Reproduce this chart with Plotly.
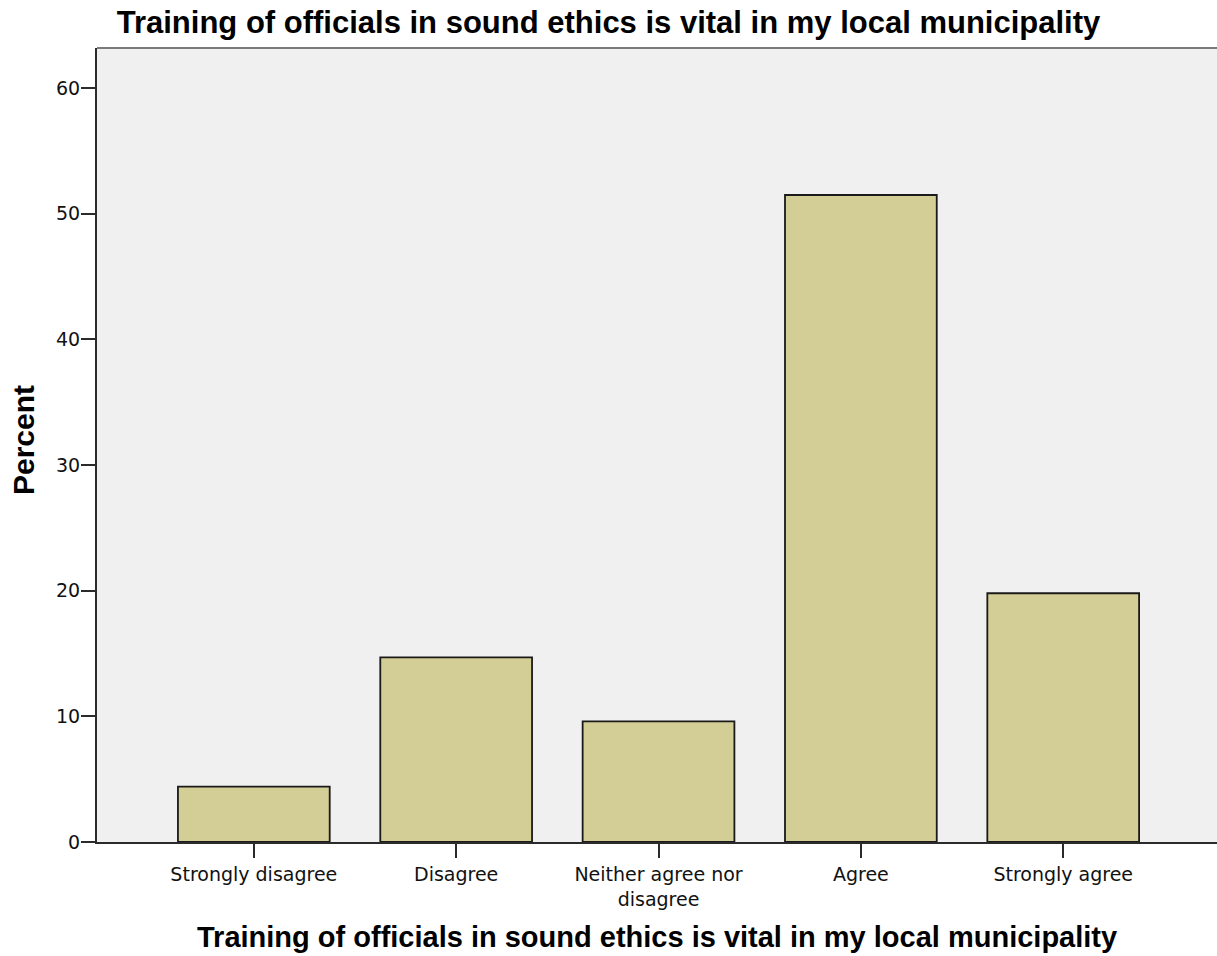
import plotly.graph_objects as go

# Survey responses (percent of respondents)
categories = ["Strongly disagree", "Disagree", "Neither agree nor<br>disagree", "Agree", "Strongly agree"]
percent = [4.4, 14.7, 9.6, 51.5, 19.8]
y_ticks = [0, 10, 20, 30, 40, 50, 60]

chart_title = "Training of officials in sound ethics is vital in my local municipality"

BAR_FILL = "#d3cd96"
PLOT_BG = "#f0f0f0"
AXIS_COLOR = "#2b2b2b"

x_pos = list(range(len(categories)))

fig = go.Figure(
    go.Bar(
        x=x_pos,
        y=percent,
        width=0.75,
        marker=dict(color=BAR_FILL, line=dict(color="#1a1a1a", width=1.8)),
        hoverinfo="skip",
    )
)

fig.update_layout(
    width=1217,
    height=956,
    margin=dict(l=97, r=0, t=48, b=114),
    paper_bgcolor="white",
    plot_bgcolor=PLOT_BG,
    showlegend=False,
    title=dict(
        text=chart_title,
        x=0.5,
        xref="container",
        xanchor="center",
        y=1 - 22 / 956,
        yref="container",
        yanchor="middle",
        font=dict(family="Liberation Sans, Arial, sans-serif", size=31, color="black", weight="bold"),
    ),
    xaxis=dict(
        range=[-0.775, 4.76],
        tickmode="array",
        tickvals=x_pos,
        ticktext=categories,
        ticks="outside",
        ticklen=14,
        tickwidth=1.5,
        tickcolor=AXIS_COLOR,
        showline=True,
        linecolor=AXIS_COLOR,
        linewidth=2,
        showgrid=False,
        zeroline=False,
        tickfont=dict(family="DejaVu Sans, sans-serif", size=19, color="#111111"),
        fixedrange=True,
    ),
    yaxis=dict(
        range=[0, 63.2],
        tickmode="array",
        tickvals=y_ticks,
        ticks="outside",
        ticklen=14,
        tickwidth=1.5,
        tickcolor=AXIS_COLOR,
        showline=True,
        linecolor=AXIS_COLOR,
        linewidth=2,
        showgrid=False,
        zeroline=False,
        ticklabelstandoff=-3,
        tickfont=dict(family="DejaVu Sans, sans-serif", size=19, color="#111111"),
        fixedrange=True,
    ),
    shapes=[
        dict(
            type="line", xref="paper", yref="paper",
            x0=0, x1=1, y0=1, y1=1,
            line=dict(color="#7a7a7a", width=2),
        )
    ],
    annotations=[
        dict(
            text=chart_title,
            xref="paper", yref="paper",
            x=0.5, y=0,
            xanchor="center", yanchor="middle",
            yshift=-(937 - 842),
            showarrow=False,
            font=dict(family="Liberation Sans, Arial, sans-serif", size=29, color="black", weight="bold"),
        ),
        dict(
            text="Percent",
            xref="paper", yref="paper",
            x=0, y=0.5,
            xanchor="center", yanchor="middle",
            xshift=-(97 - 23),
            yshift=(450 - 445),
            textangle=-90,
            showarrow=False,
            font=dict(family="Liberation Sans, Arial, sans-serif", size=30, color="black", weight="bold"),
        ),
    ],
)

fig.write_html("out.html")
